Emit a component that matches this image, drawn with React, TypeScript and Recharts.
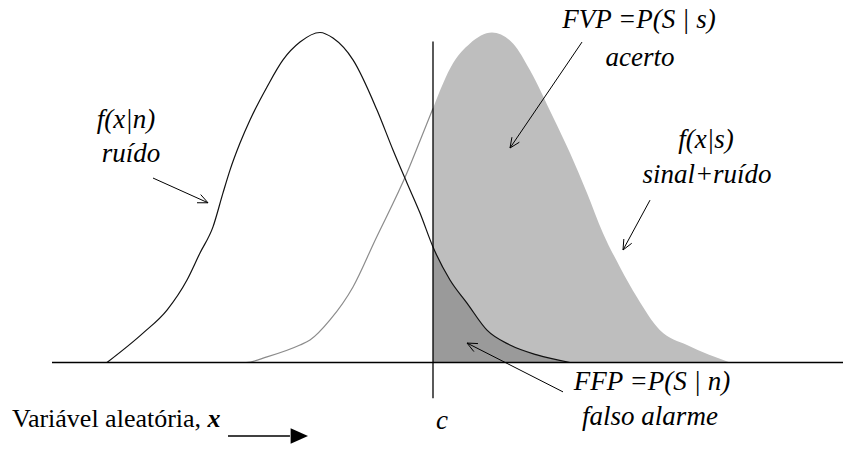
import React from "react";
import {
  ComposedChart,
  Line,
  Area,
  XAxis,
  YAxis,
  ReferenceLine,
  ReferenceDot,
} from "recharts";

// Decision variable sample points (noise mean at 0)
const noiseX = [-2.13, -1.77, -1.53, -1.33, -1.2, -1.07, -0.97, -0.9, -0.8, -0.7, -0.53, -0.37, -0.2, 0, 0.13, 0.33, 0.57, 0.73, 0.87, 1.0, 1.13, 1.3, 1.47, 1.67, 1.9, 2.17, 2.5];
// f(x|n): noise density (peak normalised to 1)
const noiseDensity = [0, 0.089, 0.159, 0.25, 0.332, 0.411, 0.514, 0.583, 0.665, 0.735, 0.835, 0.917, 0.971, 1.0, 0.983, 0.917, 0.765, 0.644, 0.544, 0.453, 0.35, 0.25, 0.18, 0.098, 0.053, 0.023, 0];

const signalX = [-0.98, -0.74, -0.53, -0.2, -0.1, 0.1, 0.33, 0.55, 0.87, 1.0, 1.13, 1.33, 1.5, 1.72, 1.93, 2.1, 2.33, 2.5, 2.67, 2.83, 3.0, 3.17, 3.4, 3.67, 4.1];
// f(x|s): signal+noise density
const signalDensity = [0, 0, 0.017, 0.053, 0.068, 0.129, 0.229, 0.37, 0.575, 0.672, 0.77, 0.907, 0.967, 1.0, 0.967, 0.886, 0.744, 0.635, 0.514, 0.392, 0.289, 0.198, 0.098, 0.053, 0];

// decision criterion c
const criterion = 1.13;

const noiseData = noiseX.map((x, i) => ({ x, y: noiseDensity[i] }));
const signalData = signalX.map((x, i) => ({ x, y: signalDensity[i] }));
const signalBelow = signalData.filter((d) => d.x <= criterion);
const signalAbove = signalData.filter((d) => d.x >= criterion);
const noiseAbove = noiseData.filter((d) => d.x >= criterion);

const FONT = "Liberation Serif";

type NoteProps = {
  cx?: number;
  cy?: number;
  children: React.ReactNode;
  italic?: boolean;
  anchor?: "start" | "middle" | "end";
  size?: number;
};

function Note({ cx = 0, cy = 0, children, italic = true, anchor = "middle", size = 27 }: NoteProps) {
  return (
    <text
      x={cx}
      y={cy}
      textAnchor={anchor}
      fontFamily={FONT}
      fontSize={size}
      fontStyle={italic ? "italic" : "normal"}
      fill="#000"
    >
      {children}
    </text>
  );
}

const note = (
  content: React.ReactNode,
  italic = true,
  anchor: "start" | "middle" | "end" = "middle",
  size = 27
) =>
  (p: any) => (
    <Note cx={p.cx} cy={p.cy} italic={italic} anchor={anchor} size={size}>
      {content}
    </Note>
  );

// Line with an open (V) head, or a filled triangular head
const arrow = (solid = false) => (p: any) => {
  const { x1, y1, x2, y2 } = p;
  const a = Math.atan2(y2 - y1, x2 - x1);
  const len = solid ? 19 : 11;
  const spread = 0.42;
  const lx = x2 - len * Math.cos(a - spread);
  const ly = y2 - len * Math.sin(a - spread);
  const rx = x2 - len * Math.cos(a + spread);
  const ry = y2 - len * Math.sin(a + spread);
  if (solid) {
    const bx = x2 - len * Math.cos(a) * 0.95;
    const by = y2 - len * Math.sin(a) * 0.95;
    return (
      <g>
        <line x1={x1} y1={y1} x2={bx} y2={by} stroke="#000" strokeWidth={1.5} />
        <polygon points={`${x2},${y2} ${lx},${ly} ${rx},${ry}`} fill="#000" />
      </g>
    );
  }
  return (
    <g stroke="#000" strokeWidth={1} fill="none">
      <line x1={x1} y1={y1} x2={x2} y2={y2} />
      <polyline points={`${lx},${ly} ${x2},${y2} ${rx},${ry}`} />
    </g>
  );
};

export default function App() {
  return (
    <div style={{ position: "absolute", left: 0, top: 0, background: "#fff" }}>
      <ComposedChart width={843} height={449} margin={{ top: 0, right: 0, bottom: 0, left: 0 }}>
        <XAxis type="number" dataKey="x" domain={[-3.2, 5.23]} allowDataOverflow hide />
        <YAxis type="number" domain={[-0.2621, 1.0985]} allowDataOverflow hide />

        {/* P(S|s): hit region under f(x|s) beyond c */}
        <Area
          data={signalAbove}
          dataKey="y"
          type="monotone"
          baseValue={0}
          stroke="none"
          fill="#bebebe"
          fillOpacity={1}
          isAnimationActive={false}
          dot={false}
          activeDot={false}
        />
        {/* P(S|n): false alarm region under f(x|n) beyond c */}
        <Area
          data={noiseAbove}
          dataKey="y"
          type="monotone"
          baseValue={0}
          stroke="none"
          fill="#9a9a9a"
          fillOpacity={1}
          isAnimationActive={false}
          dot={false}
          activeDot={false}
        />
        <Line
          data={signalBelow}
          dataKey="y"
          type="monotone"
          stroke="#8c8c8c"
          strokeWidth={1.2}
          dot={false}
          activeDot={false}
          isAnimationActive={false}
        />
        <Line
          data={noiseData}
          dataKey="y"
          type="monotone"
          stroke="#111"
          strokeWidth={1.2}
          dot={false}
          activeDot={false}
          isAnimationActive={false}
        />

        {/* axis of the decision variable and criterion */}
        <ReferenceLine
          segment={[{ x: -2.68, y: 0 }, { x: 5.23, y: 0 }]}
          stroke="#000"
          strokeWidth={1.5}
          ifOverflow="visible"
        />
        <ReferenceLine
          segment={[{ x: criterion, y: 0.973 }, { x: criterion, y: -0.108 }]}
          stroke="#000"
          strokeWidth={1.3}
          ifOverflow="visible"
        />

        {/* pointers */}
        <ReferenceLine segment={[{ x: -1.67, y: 0.559 }, { x: -1.12, y: 0.484 }]} shape={arrow()} ifOverflow="visible" />
        <ReferenceLine segment={[{ x: 2.62, y: 0.971 }, { x: 1.9, y: 0.65 }]} shape={arrow()} ifOverflow="visible" />
        <ReferenceLine segment={[{ x: 3.3, y: 0.492 }, { x: 3.03, y: 0.341 }]} shape={arrow()} ifOverflow="visible" />
        <ReferenceLine segment={[{ x: 2.43, y: -0.089 }, { x: 1.47, y: 0.059 }]} shape={arrow()} ifOverflow="visible" />
        <ReferenceLine segment={[{ x: -0.92, y: -0.223 }, { x: -0.12, y: -0.223 }]} shape={arrow(true)} ifOverflow="visible" />

        {/* labels */}
        <ReferenceDot x={-1.94} y={0.711} r={1} ifOverflow="visible" shape={note("f(x|n)")} />
        <ReferenceDot x={-1.89} y={0.607} r={1} ifOverflow="visible" shape={note("ruído")} />
        <ReferenceDot x={3.19} y={1.014} r={1} ifOverflow="visible" shape={note("FVP =P(S | s)")} />
        <ReferenceDot x={3.2} y={0.898} r={1} ifOverflow="visible" shape={note("acerto")} />
        <ReferenceDot x={3.86} y={0.65} r={1} ifOverflow="visible" shape={note("f(x|s)")} />
        <ReferenceDot x={3.87} y={0.544} r={1} ifOverflow="visible" shape={note("sinal+ruído")} />
        <ReferenceDot x={3.32} y={-0.083} r={1} ifOverflow="visible" shape={note("FFP =P(S | n)")} />
        <ReferenceDot x={3.3} y={-0.189} r={1} ifOverflow="visible" shape={note("falso alarme")} />
        <ReferenceDot x={1.22} y={-0.2015} r={1} ifOverflow="visible" shape={note("c")} />
        <ReferenceDot
          x={-3.08}
          y={-0.195}
          r={1}
          ifOverflow="visible"
          shape={note(
            <>
              Variável aleatória,{" "}
              <tspan fontWeight="bold" fontStyle="italic">x</tspan>
            </>,
            false,
            "start",
            26
          )}
        />
      </ComposedChart>
    </div>
  );
}
